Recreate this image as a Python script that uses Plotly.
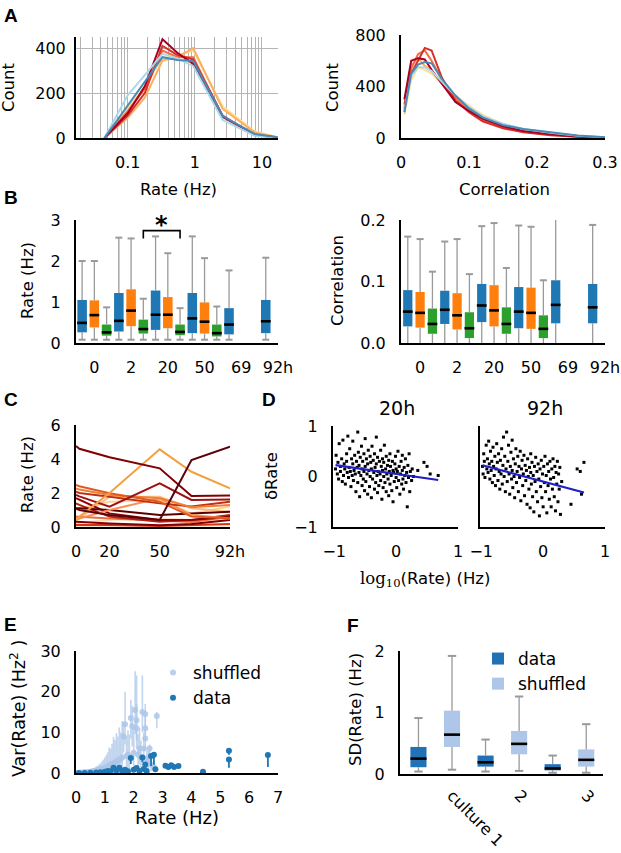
import plotly.graph_objects as go

W, H = 621, 853
FONT = 'DejaVu Sans'
GRAY = '#9a9a9a'

# ---------------- Panel A (histograms) ----------------
rate_bins = [0.045, 0.1, 0.18, 0.33, 0.55, 0.95, 2.6, 7.8, 17.0]
rate_hist = [
    ('#fee090', [0, 130, 230, 355, 370, 390, 140, 30, 3]),
    ('#fdae61', [0, 90, 180, 345, 360, 400, 130, 25, 3]),
    ('#f46d43', [0, 120, 220, 390, 360, 360, 95, 15, 2]),
    ('#d73027', [0, 100, 200, 410, 370, 350, 100, 12, 2]),
    ('#a50026', [0, 110, 230, 440, 380, 330, 95, 15, 2]),
    ('#abd9e9', [0, 190, 280, 375, 355, 320, 80, 10, 2]),
    ('#4a8ab8', [0, 144, 247, 360, 348, 343, 98, 18, 3]),
]
corr_bins = [0.005, 0.015, 0.025, 0.035, 0.045, 0.06, 0.08, 0.1, 0.12, 0.15, 0.18, 0.22, 0.26, 0.3]
corr_hist = [
    ('#fee090', [180, 450, 550, 530, 500, 420, 330, 250, 180, 110, 65, 35, 15, 5]),
    ('#fdae61', [200, 560, 620, 560, 520, 430, 320, 230, 160, 100, 60, 30, 12, 4]),
    ('#f46d43', [230, 540, 650, 680, 600, 450, 310, 210, 140, 80, 50, 25, 10, 3]),
    ('#d73027', [260, 500, 600, 700, 680, 470, 290, 200, 130, 75, 45, 22, 9, 3]),
    ('#a50026', [300, 600, 620, 610, 530, 420, 280, 210, 150, 90, 55, 30, 12, 4]),
    ('#abd9e9', [220, 480, 550, 550, 520, 440, 330, 240, 170, 110, 70, 40, 18, 6]),
    ('#4a8ab8', [200, 500, 570, 590, 580, 460, 330, 230, 160, 100, 70, 45, 20, 6]),
]

# ---------------- Panel B (box summaries) ----------------
groups = ['0', '2', '20', '50', '69', '92h']
cond_colors = ['#1f77b4', '#ff7f0e', '#2ca02c']
cond_groups = [[0, 1, 2, 3, 4, 5], [0, 1, 2, 3], [0, 1, 2, 3]]
rate_lo = [[0.08] * 6, [0.08] * 4, [0.08] * 4]
rate_q1 = [[0.26, 0.28, 0.32, 0.24, 0.21, 0.24], [0.38, 0.41, 0.36, 0.23], [0.18, 0.23, 0.19, 0.16]]
rate_med = [[0.49, 0.54, 0.69, 0.60, 0.45, 0.53], [0.68, 0.79, 0.69, 0.52], [0.26, 0.34, 0.27, 0.24]]
rate_q3 = [[1.05, 1.22, 1.28, 1.22, 0.85, 1.05], [1.04, 1.31, 1.12, 0.99], [0.45, 0.57, 0.45, 0.45]]
rate_hi = [[2.0, 2.57, 2.6, 2.6, 1.77, 2.08], [2.0, 2.55, 2.19, 2.07], [0.87, 1.08, 0.85, 0.89]]
corr_lo = [[0.0] * 6, [0.0] * 4, [0.0] * 4]
corr_q1 = [[0.027, 0.031, 0.034, 0.024, 0.032, 0.032], [0.025, 0.022, 0.027, 0.023], [0.015, 0.008, 0.015, 0.008]]
corr_med = [[0.051, 0.054, 0.061, 0.051, 0.062, 0.058], [0.049, 0.045, 0.053, 0.049], [0.031, 0.024, 0.031, 0.023]]
corr_q3 = [[0.086, 0.085, 0.096, 0.091, 0.102, 0.096], [0.083, 0.081, 0.094, 0.090], [0.056, 0.050, 0.058, 0.045]]
corr_hi = [[0.173, 0.165, 0.190, 0.191, 0.215, 0.192], [0.169, 0.169, 0.195, 0.189], [0.116, 0.112, 0.122, 0.102]]
sig_pair = [(1, 2), (2, 2)]   # (group, condition) pairs joined by the '*' bracket
sig_levels = [2.55, 2.74]

# ---------------- Panel C (rate trajectories) ----------------
times = [0, 2, 20, 50, 69, 92]
traj = [
    ('#fee8c8', [0.06, 0.06, 0.05, 0.05, 0.06, 0.08]),
    ('#fdd49e', [1.0, 1.1, 1.49, 1.59, 0.8, 1.2]),
    ('#fdbb84', [0.41, 0.5, 1.78, 1.78, 1.1, 0.9]),
    ('#fee0c0', [0.2, 0.25, 0.41, 0.51, 0.41, 0.41]),
    ('#d7301f', [0.12, 0.12, 0.12, 0.06, 0.1, 0.18]),
    ('#e87040', [0.6, 0.6, 0.5, 0.4, 0.3, 0.6]),
    ('#7f0000', [0.31, 0.3, 0.2, 0.1, 0.18, 0.41]),
    ('#b02010', [1.39, 1.3, 0.61, 0.31, 0.41, 0.7]),
    ('#900000', [1.69, 1.6, 0.8, 0.41, 0.41, 0.61]),
    ('#5a0000', [1.1, 1.1, 1.0, 0.7, 0.8, 0.9]),
    ('#fc8d59', [0.41, 0.5, 1.0, 1.69, 0.7, 0.5]),
    ('#c03018', [2.08, 2.0, 1.78, 1.39, 1.2, 1.49]),
    ('#f08030', [2.27, 2.2, 1.88, 1.69, 1.16, 1.29]),
    ('#e05a20', [2.47, 2.4, 1.98, 1.49, 0.61, 0.51]),
    ('#a01010', [1.88, 1.8, 1.2, 2.57, 1.59, 1.62]),
    ('#f4a040', [0.4, 0.6, 2.0, 4.57, 3.25, 2.27]),
    ('#800000', [4.76, 4.6, 4.1, 3.45, 1.82, 1.85]),
    ('#5a000a', [1.1, 1.0, 0.7, 0.41, 3.94, 4.73]),
]

# ---------------- Panel D (delta rate vs log rate) ----------------
d20_pts = [(-0.98,0.15),(-0.97,0.42),(-0.95,0.05),(-0.94,0.28),(-0.93,-0.05),(-0.92,0.65),(-0.9,0.2),(-0.9,0.1),(-0.88,0.35),(-0.87,-0.1),(-0.86,0.72),(-0.85,0.02),(-0.84,0.25),(-0.83,0.15),(-0.82,-0.15),(-0.8,0.45),(-0.8,0.3),(-0.79,0.08),(-0.78,0.8),(-0.77,-0.02),(-0.76,0.18),(-0.75,0.55),(-0.74,0.1),(-0.73,-0.2),(-0.72,0.35),(-0.71,0.02),(-0.7,0.7),(-0.7,0.25),(-0.69,-0.08),(-0.68,0.12),(-0.67,0.42),(-0.66,0.05),(-0.65,-0.3),(-0.64,0.3),(-0.63,0.18),(-0.62,0.88),(-0.62,-0.12),(-0.61,0.48),(-0.6,0.08),(-0.6,0.22),(-0.59,-0.4),(-0.58,0.38),(-0.57,0.02),(-0.56,0.6),(-0.55,-0.18),(-0.55,0.15),(-0.54,0.3),(-0.53,-0.05),(-0.52,0.45),(-0.52,0.1),(-0.51,-0.28),(-0.5,0.2),(-0.5,0.75),(-0.49,-0.1),(-0.48,0.35),(-0.47,0.05),(-0.46,-0.35),(-0.46,0.25),(-0.45,0.52),(-0.44,0.12),(-0.43,-0.2),(-0.42,0.4),(-0.42,0.0),(-0.41,0.28),(-0.4,-0.42),(-0.4,0.15),(-0.39,0.6),(-0.38,-0.05),(-0.37,0.32),(-0.36,0.08),(-0.35,-0.25),(-0.35,0.45),(-0.34,0.18),(-0.33,-0.12),(-0.32,0.78),(-0.32,0.25),(-0.31,0.02),(-0.3,-0.32),(-0.3,0.38),(-0.29,0.1),(-0.28,-0.18),(-0.27,0.3),(-0.26,0.05),(-0.25,0.52),(-0.25,-0.08),(-0.24,0.2),(-0.23,-0.45),(-0.22,0.35),(-0.22,0.12),(-0.21,-0.22),(-0.2,0.28),(-0.2,0.0),(-0.19,0.62),(-0.18,-0.12),(-0.17,0.15),(-0.16,0.4),(-0.16,-0.3),(-0.15,0.05),(-0.14,0.22),(-0.13,-0.05),(-0.12,0.32),(-0.12,-0.38),(-0.11,0.1),(-0.1,0.45),(-0.1,-0.15),(-0.09,0.2),(-0.08,0.02),(-0.07,-0.28),(-0.06,0.3),(-0.05,0.12),(-0.05,-0.5),(-0.04,0.08),(-0.03,-0.1),(-0.02,0.25),(-0.01,0.4),(0.0,-0.02),(0.0,0.15),(0.01,-0.22),(0.02,0.1),(0.03,0.5),(0.04,-0.08),(0.05,0.2),(0.06,-0.35),(0.07,0.05),(0.08,0.3),(0.09,-0.15),(0.1,0.12),(0.1,0.42),(0.11,-0.05),(0.12,-0.25),(0.13,0.18),(0.14,0.02),(0.15,0.35),(0.16,-0.12),(0.17,0.08),(0.18,-0.6),(0.19,0.22),(0.2,-0.02),(0.21,0.45),(0.22,-0.3),(0.23,0.1),(0.25,-0.08),(0.26,0.15),(0.28,0.0),(0.35,0.12),(0.45,0.28),(0.5,0.2),(0.55,0.05),(0.68,0.02)]
d92_pts = [(-0.98,0.2),(-0.97,0.05),(-0.96,0.45),(-0.95,0.3),(-0.94,-0.02),(-0.92,0.62),(-0.91,0.15),(-0.9,0.35),(-0.89,0.08),(-0.88,0.7),(-0.87,0.25),(-0.86,-0.05),(-0.85,0.5),(-0.84,0.12),(-0.83,0.3),(-0.82,-0.12),(-0.81,0.58),(-0.8,0.2),(-0.79,0.02),(-0.78,0.4),(-0.77,-0.18),(-0.76,0.15),(-0.75,0.65),(-0.74,0.28),(-0.73,-0.08),(-0.72,0.45),(-0.71,0.1),(-0.7,-0.25),(-0.69,0.32),(-0.68,0.05),(-0.67,0.55),(-0.66,-0.15),(-0.65,0.22),(-0.64,0.78),(-0.63,0.0),(-0.62,0.4),(-0.61,-0.3),(-0.6,0.15),(-0.59,0.88),(-0.58,-0.1),(-0.57,0.3),(-0.56,0.62),(-0.55,0.05),(-0.54,-0.35),(-0.53,0.2),(-0.52,0.48),(-0.51,-0.05),(-0.5,0.72),(-0.5,0.12),(-0.49,-0.22),(-0.48,0.35),(-0.47,0.0),(-0.46,-0.42),(-0.45,0.25),(-0.44,0.55),(-0.43,-0.12),(-0.42,0.1),(-0.41,0.4),(-0.4,-0.3),(-0.39,0.2),(-0.38,-0.02),(-0.37,0.5),(-0.36,-0.48),(-0.35,0.15),(-0.34,0.32),(-0.33,-0.18),(-0.32,0.05),(-0.31,0.42),(-0.3,-0.38),(-0.29,0.22),(-0.28,-0.08),(-0.27,0.12),(-0.26,-0.55),(-0.25,0.35),(-0.24,0.0),(-0.23,-0.25),(-0.22,0.18),(-0.21,-0.62),(-0.2,0.45),(-0.2,0.08),(-0.19,-0.15),(-0.18,0.28),(-0.17,-0.4),(-0.16,0.02),(-0.15,-0.7),(-0.14,0.2),(-0.13,-0.1),(-0.12,0.38),(-0.11,-0.3),(-0.1,0.1),(-0.09,-0.5),(-0.08,0.25),(-0.07,-0.05),(-0.06,-0.78),(-0.05,0.15),(-0.04,-0.2),(-0.03,0.32),(-0.02,-0.42),(-0.01,0.05),(0.0,-0.6),(0.01,0.2),(0.02,-0.12),(0.03,0.4),(0.04,-0.3),(0.05,0.02),(0.06,-0.72),(0.07,0.25),(0.08,-0.18),(0.09,0.1),(0.1,-0.45),(0.11,0.3),(0.12,-0.05),(0.13,-0.6),(0.14,0.15),(0.15,-0.25),(0.16,0.35),(0.17,-0.02),(0.18,-0.4),(0.19,0.2),(0.2,-0.68),(0.21,0.08),(0.22,-0.15),(0.23,0.3),(0.24,-0.5),(0.25,0.05),(0.26,-0.25),(0.27,0.18),(0.28,-0.75),(0.3,-0.1),(0.45,-0.55),(0.55,0.15),(0.6,0.1),(0.62,-0.35),(0.66,0.28)]
fit20 = (-0.178, 0.052)   # slope, intercept
fit92 = (-0.33, -0.10)

# ---------------- Panel E (variance vs rate) ----------------
shuffled_pts = [(0.05,0.02,0.05,0.02),(0.1,0.04,0.1,0.03),(0.15,0.06,0.1,0.05),(0.2,0.08,0.15,0.06),(0.25,0.1,0.2,0.08),(0.3,0.13,0.25,0.1),(0.35,0.16,0.3,0.12),(0.4,0.2,0.35,0.15),(0.45,0.24,0.4,0.2),(0.5,0.3,0.5,0.25),(0.55,0.35,0.6,0.3),(0.6,0.42,0.7,0.35),(0.65,0.5,0.8,0.4),(0.7,0.6,1.0,0.5),(0.75,0.7,1.1,0.55),(0.8,0.8,1.3,0.65),(0.85,0.9,1.5,0.7),(0.9,1.0,1.8,0.8),(0.95,1.1,2.2,0.9),(1.0,1.3,2.5,1.0),(1.05,1.4,3.0,1.1),(1.1,1.6,3.5,1.3),(1.15,1.8,4.5,1.4),(1.2,2.0,4.0,1.6),(1.25,2.2,5.0,1.8),(1.3,2.4,6.5,1.9),(1.35,2.6,5.5,2.1),(1.4,2.8,7.0,2.2),(1.45,3.0,6.0,2.4),(1.5,3.2,8.0,2.6),(1.55,3.5,6.5,2.8),(1.6,3.8,9.0,3.0),(1.65,9.0,3.5,4.0),(1.7,12.0,8.0,5.0),(1.75,4.2,5.0,3.4),(1.8,4.5,6.0,3.6),(1.85,4.0,5.5,3.2),(1.9,13.5,4.5,5.0),(1.95,11.5,5.0,5.0),(2.0,5.0,6.0,4.0),(2.05,15.5,9.5,6.0),(2.1,11.0,6.0,5.0),(2.1,13.0,11.0,5.0),(2.15,4.5,5.0,3.6),(2.2,6.0,5.0,4.0),(2.25,4.0,4.0,3.2),(2.3,15.0,9.0,5.0),(2.35,6.0,4.0,4.0),(2.4,14.5,2.5,4.0),(2.4,11.0,3.0,3.0),(2.4,8.5,2.0,3.0),(2.45,3.5,2.0,2.8),(2.5,3.0,2.5,2.4),(2.55,6.0,1.0,2.0),(2.6,2.0,2.0,1.6),(2.7,1.5,1.5,1.2),(2.8,14.0,1.0,3.0)]
data_pts = [(0.1,0.01,0.02,0.01),(0.3,0.03,0.05,0.02),(0.5,0.06,0.1,0.05),(0.7,0.1,0.15,0.08),(0.85,0.2,0.2,0.15),(1.0,0.3,0.3,0.2),(1.1,0.5,0.3,0.3),(1.2,0.4,0.4,0.3),(1.3,1.3,0.3,0.8),(1.4,0.6,0.4,0.4),(1.5,1.3,0.2,0.7),(1.6,0.5,0.3,0.3),(1.7,0.8,0.3,0.5),(1.8,0.4,0.3,0.3),(1.9,3.7,0.2,1.5),(2.0,0.8,0.4,0.5),(2.1,1.2,0.3,0.6),(2.2,0.5,0.3,0.3),(2.3,3.8,0.3,1.2),(2.35,1.0,0.3,0.6),(2.4,2.1,0.3,1.5),(2.45,0.5,0.2,0.3),(2.6,4.2,0.3,2.5),(2.7,4.5,0.3,2.5),(2.75,0.9,0.2,0.6),(3.1,1.8,0.2,0.5),(3.2,1.5,0.2,0.4),(3.3,1.9,0.2,0.5),(3.4,1.5,0.2,0.4),(3.55,1.7,0.2,0.4),(4.4,0.3,0.1,0.2),(5.3,5.5,0.5,1.0),(5.3,3.3,0.5,2.0),(6.65,4.4,0.3,2.9)]

# ---------------- Panel F (SD boxes) ----------------
cultures = ['culture 1', '2', '3']
sd_names = ['data', 'shuffled']
sd_colors = ['#2171b5', '#aec7e8']
sd_lo = [[0.04, 0.04, 0.02], [0.07, 0.05, 0.02]]
sd_q1 = [[0.11, 0.12, 0.06], [0.44, 0.32, 0.12]]
sd_med = [[0.25, 0.19, 0.09], [0.64, 0.49, 0.23]]
sd_q3 = [[0.44, 0.30, 0.16], [1.03, 0.70, 0.40]]
sd_hi = [[0.91, 0.56, 0.30], [1.92, 1.26, 0.81]]

# =====================================================
fig = go.Figure()

def px_x(p):
    return p / W

def px_y(p):
    return 1 - p / H

def ax_ids(n):
    return ('x', 'y') if n == 1 else (f'x{n}', f'y{n}')

def add_boxes(n, pos, lo, q1, med, q3, hi, color, width=0.78, lo_caps=True,
              name=None, legend=None, cap=5, medsize=7):
    xa, ya = ax_ids(n)
    wx, wy = [], []
    for p, l, a, b, h in zip(pos, lo, q1, q3, hi):
        wx += [p, p, None, p, p, None]
        wy += [h, b, None, a, l, None]
    fig.add_trace(go.Scatter(x=wx, y=wy, mode='lines', line=dict(color=GRAY, width=1.3),
                             xaxis=xa, yaxis=ya, showlegend=False, hoverinfo='skip'))
    fig.add_trace(go.Bar(x=pos, y=[b - a for a, b in zip(q1, q3)], base=q1, width=width,
                         marker=dict(color=color, line=dict(width=0)), xaxis=xa, yaxis=ya,
                         name=name, showlegend=name is not None,
                         legend=legend if legend else 'legend'))
    cx = list(pos) + (list(pos) if lo_caps else [])
    cy = list(hi) + (list(lo) if lo_caps else [])
    fig.add_trace(go.Scatter(x=cx, y=cy, mode='markers',
                             marker=dict(symbol='line-ew', size=cap, line=dict(color=GRAY, width=2)),
                             xaxis=xa, yaxis=ya, showlegend=False, hoverinfo='skip'))
    fig.add_trace(go.Scatter(x=pos, y=med, mode='markers',
                             marker=dict(symbol='line-ew', size=medsize, line=dict(color='black', width=2.6)),
                             xaxis=xa, yaxis=ya, showlegend=False, hoverinfo='skip'))

# ---- A left
for col, vals in rate_hist:
    fig.add_trace(go.Scatter(x=rate_bins, y=vals, mode='lines', line=dict(color=col, width=2),
                             xaxis='x', yaxis='y', showlegend=False))
# ---- A right
for col, vals in corr_hist:
    fig.add_trace(go.Scatter(x=corr_bins, y=vals, mode='lines', line=dict(color=col, width=2),
                             xaxis='x2', yaxis='y2', showlegend=False))

# ---- B
def bpos(g, c):
    return g * 3 + c

for c in range(3):
    pos = [bpos(g, c) for g in cond_groups[c]]
    add_boxes(3, pos, rate_lo[c], rate_q1[c], rate_med[c], rate_q3[c], rate_hi[c], cond_colors[c])
    add_boxes(4, pos, corr_lo[c], corr_q1[c], corr_med[c], corr_q3[c], corr_hi[c], cond_colors[c],
              width=0.75, lo_caps=False)
(g1, c1), (g2, c2) = sig_pair
bx = [bpos(g1, c1), bpos(g1, c1), bpos(g2, c2), bpos(g2, c2)]
by = [sig_levels[0], sig_levels[1], sig_levels[1], sig_levels[0]]
fig.add_trace(go.Scatter(x=bx, y=by, mode='lines', line=dict(color='black', width=1.6),
                         xaxis='x3', yaxis='y3', showlegend=False))
fig.add_annotation(x=(bx[0] + bx[2]) / 2, y=sig_levels[1], xref='x3', yref='y3', text='<b>*</b>',
                   showarrow=False, yanchor='bottom', yshift=-10,
                   font=dict(family=FONT, size=24, color='black'))

# ---- C
for col, vals in traj:
    fig.add_trace(go.Scatter(x=times, y=vals, mode='lines', line=dict(color=col, width=2),
                             xaxis='x5', yaxis='y5', showlegend=False))

# ---- D
for n, pts, fit in [(6, d20_pts, fit20), (7, d92_pts, fit92)]:
    xa, ya = ax_ids(n)
    xs = [p[0] for p in pts]
    ys = [p[1] for p in pts]
    fig.add_trace(go.Scatter(x=xs, y=ys, mode='markers',
                             marker=dict(symbol='square', size=3, color='black'),
                             xaxis=xa, yaxis=ya, showlegend=False))
    lx = [min(xs), max(xs)]
    fig.add_trace(go.Scatter(x=lx, y=[fit[0] * v + fit[1] for v in lx], mode='lines',
                             line=dict(color='#1f1fc8', width=2.2), xaxis=xa, yaxis=ya, showlegend=False))

# ---- E
fig.add_trace(go.Scatter(
    x=[p[0] for p in shuffled_pts], y=[p[1] for p in shuffled_pts], mode='markers', name='shuffled',
    marker=dict(color='rgba(174,199,232,0.85)', size=6),
    error_y=dict(type='data', array=[p[2] for p in shuffled_pts], arrayminus=[p[3] for p in shuffled_pts],
                 color='rgba(174,199,232,0.75)', thickness=1.6, width=0),
    xaxis='x8', yaxis='y8', legend='legend'))
fig.add_trace(go.Scatter(
    x=[p[0] for p in data_pts], y=[p[1] for p in data_pts], mode='markers', name='data',
    marker=dict(color='#1f77b4', size=6),
    error_y=dict(type='data', array=[p[2] for p in data_pts], arrayminus=[p[3] for p in data_pts],
                 color='#1f77b4', thickness=1.8, width=0),
    xaxis='x8', yaxis='y8', legend='legend'))

# ---- F
for k in range(2):
    pos = [i * 2 + k for i in range(len(cultures))]
    add_boxes(9, pos, sd_lo[k], sd_q1[k], sd_med[k], sd_q3[k], sd_hi[k], sd_colors[k],
              width=0.48, name=sd_names[k], legend='legend2', cap=6, medsize=11.5)

# =====================================================
TICK = 16
TITLE = 16.5
tickfont = dict(family=FONT, size=TICK, color='black')
base = dict(showline=True, linecolor='black', linewidth=2, ticks='', ticklen=0, showgrid=False,
            zeroline=False, tickfont=tickfont, fixedrange=True, automargin=False)
XS = 9    # x tick label standoff
YS = 10   # y tick label standoff

def xdom(a, b):
    return [px_x(a), px_x(b)]

def ydom(top, bottom):
    return [px_y(bottom), px_y(top)]

grid_vals = [m * 10 ** e for e in (-2, -1, 0, 1) for m in range(2, 10)]

layout = dict(
    template='none',
    width=W, height=H, margin=dict(l=0, r=0, t=0, b=0, pad=0, autoexpand=False),
    paper_bgcolor='white', plot_bgcolor='white', barmode='overlay', showlegend=True,
    font=dict(family=FONT, size=TICK, color='black'),
    xaxis=dict(base, domain=xdom(76, 278), anchor='y', type='log', range=[-1.77, 1.24],
               tickvals=[0.1, 1, 10], ticktext=['0.1', '1', '10'], showgrid=True, gridcolor='#b4b4b4',
               gridwidth=1, ticklabelstandoff=XS,
               minor=dict(tickvals=grid_vals, showgrid=True, gridcolor='#b4b4b4', gridwidth=1, ticks='')),
    yaxis=dict(base, domain=ydom(37, 138), anchor='x', range=[0, 450], tickvals=[0, 200, 400],
               showgrid=True, gridcolor='#b4b4b4', gridwidth=1, ticklabelstandoff=5),
    xaxis2=dict(base, domain=xdom(401, 605), anchor='y2', range=[0, 0.3],
                tickvals=[0, 0.1, 0.2, 0.3], ticktext=['0', '0.1', '0.2', '0.3'], ticklabelstandoff=XS),
    yaxis2=dict(base, domain=ydom(35, 138), anchor='x2', range=[0, 800], tickvals=[0, 400, 800],
                ticklabelstandoff=YS),
    xaxis3=dict(base, domain=xdom(76, 278), anchor='y3', range=[-0.5, 16],
                tickvals=[bpos(g, 1) for g in range(len(groups))], ticktext=groups, ticklabelstandoff=XS),
    yaxis3=dict(base, domain=ydom(220, 343), anchor='x3', range=[0, 3], tickvals=[0, 1, 2, 3],
                ticklabelstandoff=YS),
    xaxis4=dict(base, domain=xdom(401, 605), anchor='y4', range=[-0.55, 16.0],
                tickvals=[bpos(g, 1) for g in range(len(groups))], ticktext=groups, ticklabelstandoff=XS),
    yaxis4=dict(base, domain=ydom(220, 343), anchor='x4', range=[0, 0.2], tickvals=[0, 0.1, 0.2],
                tickformat='.1f', ticklabelstandoff=YS),
    xaxis5=dict(base, domain=xdom(76, 230), anchor='y5', range=[0, 92],
                tickvals=[0, 20, 50, 92], ticktext=['0', '20', '50', '92h'], ticklabelstandoff=XS),
    yaxis5=dict(base, domain=ydom(425, 527), anchor='x5', range=[0, 6], tickvals=[0, 2, 4, 6],
                ticklabelstandoff=YS),
    xaxis6=dict(base, domain=xdom(333, 458), anchor='y6', range=[-1.02, 1.0], tickvals=[-1, 0, 1],
                ticklabelstandoff=XS),
    yaxis6=dict(base, domain=ydom(426, 527), anchor='x6', range=[-1, 1], tickvals=[-1, 0, 1],
                ticklabelstandoff=YS),
    xaxis7=dict(base, domain=xdom(480, 605), anchor='y7', range=[-1.02, 1.0], tickvals=[-1, 0, 1],
                ticklabelstandoff=XS),
    yaxis7=dict(base, domain=ydom(426, 527), anchor='x7', range=[-1, 1], tickvals=[-1, 0, 1],
                showticklabels=False),
    xaxis8=dict(base, domain=xdom(76, 278), anchor='y8', range=[0, 7], tickvals=list(range(8)),
                ticklabelstandoff=XS),
    yaxis8=dict(base, domain=ydom(651, 773), anchor='x8', range=[0, 30], tickvals=[0, 10, 20, 30],
                ticklabelstandoff=YS),
    xaxis9=dict(base, domain=xdom(400, 603), anchor='y9', range=[-0.55, 5.5],
                tickvals=[i * 2 + 1 for i in range(len(cultures))], ticktext=cultures,
                tickangle=45, ticklabelstandoff=4),
    yaxis9=dict(base, domain=ydom(651, 774), anchor='x9', range=[0, 2], tickvals=[0, 1, 2],
                ticklabelstandoff=YS),
    legend=dict(x=px_x(153), y=px_y(655), xanchor='left', yanchor='top', bgcolor='rgba(0,0,0,0)',
                font=dict(family=FONT, size=17), itemwidth=30, tracegroupgap=0, borderwidth=0),
    legend2=dict(x=px_x(478), y=px_y(641), xanchor='left', yanchor='top', bgcolor='rgba(0,0,0,0)',
                 font=dict(family=FONT, size=17), itemwidth=30, tracegroupgap=0, borderwidth=0),
)
fig.update_layout(**layout)

def label(text, x, y, angle=0, size=TITLE, family=FONT):
    fig.add_annotation(x=px_x(x), y=px_y(y), xref='paper', yref='paper', text=text,
                       showarrow=False, textangle=angle, xanchor='center', yanchor='middle',
                       font=dict(family=family, size=size, color='black'))

# axis titles
label('Count', 9, 87, -90)
label('Rate (Hz)', 178, 189)
label('Count', 333, 87, -90)
label('Correlation', 504, 189)
label('Rate (Hz)', 28, 281, -90)
label('Correlation', 338, 281, -90)
label('Rate (Hz)', 27, 475, -90)
label('\u03b4Rate', 272, 476, -90)
label('20h', 397, 408, size=19)
label('92h', 545, 408, size=19)
label('<span style="font-family:DejaVu Serif">log<sub>10</sub></span>(Rate) (Hz)', 425, 579)
label('Var(Rate) (Hz<sup>2</sup> )', 18, 709, -90, size=17.5)
label('Rate (Hz)', 177, 817, size=18)
label('SD(Rate) (Hz)', 355, 710, -90)

# panel letters
for t, x, y in [('A', 11, 16), ('B', 11, 197), ('C', 11, 399), ('D', 269, 399), ('E', 10, 624), ('F', 353, 625)]:
    label('<b>%s</b>' % t, x, y, size=19, family='Liberation Sans')

fig.write_html('out.html', config={'displayModeBar': False},
               post_script="document.body.style.margin='0';document.body.style.overflow='hidden';")
